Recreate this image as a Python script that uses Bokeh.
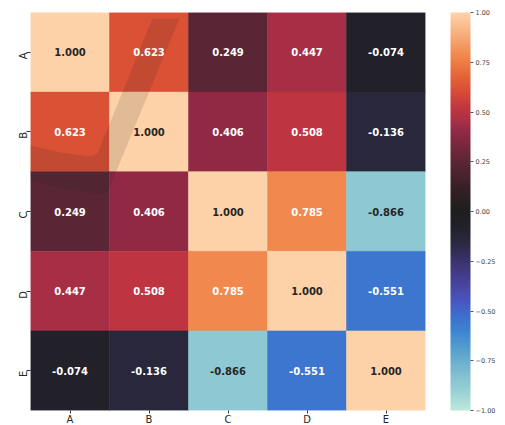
import math
import numpy as np
from bokeh.plotting import figure
from bokeh.models import (ColumnDataSource, LinearColorMapper, ColorBar,
                          FixedTicker, CustomJSTickFormatter)
from bokeh.transform import transform
from bokeh.core.properties import value
from bokeh.embed import file_html
from bokeh.resources import INLINE

# Correlation matrix
variables = ["A", "B", "C", "D", "E"]
row_A = [1.000, 0.623, 0.249, 0.447, -0.074]
row_B = [0.623, 1.000, 0.406, 0.508, -0.136]
row_C = [0.249, 0.406, 1.000, 0.785, -0.866]
row_D = [0.447, 0.508, 0.785, 1.000, -0.551]
row_E = [-0.074, -0.136, -0.866, -0.551, 1.000]
corr_rows = [row_A, row_B, row_C, row_D, row_E]
colorbar_ticks = [-1.0, -0.75, -0.5, -0.25, 0.0, 0.25, 0.5, 0.75, 1.0]

# Diverging "icefire"-like colormap, defined by stops on [-1, 1]
icefire_stops = [
    (-1.00, (189, 231, 219)),
    (-0.90, (152, 207, 212)),
    (-0.80, (122, 186, 207)),
    (-0.70, (88, 160, 206)),
    (-0.60, (60, 132, 209)),
    (-0.52, (62, 108, 204)),
    (-0.45, (72, 86, 190)),
    (-0.36, (72, 66, 155)),
    (-0.26, (60, 52, 112)),
    (-0.16, (43, 41, 66)),
    (-0.07, (33, 32, 40)),
    (0.00, (30, 30, 30)),
    (0.10, (50, 31, 36)),
    (0.25, (91, 38, 53)),
    (0.40, (143, 41, 69)),
    (0.45, (166, 47, 70)),
    (0.52, (192, 53, 64)),
    (0.62, (218, 80, 54)),
    (0.70, (232, 106, 59)),
    (0.78, (240, 134, 75)),
    (0.90, (248, 176, 128)),
    (1.00, (254, 210, 168)),
]

N = 256
pos = np.linspace(-1, 1, N)
sp = [s[0] for s in icefire_stops]
chan = [np.interp(pos, sp, [s[1][k] for s in icefire_stops]) for k in range(3)]
palette = ["#%02x%02x%02x" % (int(round(r)), int(round(g)), int(round(b)))
           for r, g, b in zip(*chan)]

LOW, HIGH = -1.0, 1.0
mapper = LinearColorMapper(palette=palette, low=LOW, high=HIGH)


def cell_rgb(v):
    i = int(math.floor((v - LOW) / (HIGH - LOW) * N))
    i = min(max(i, 0), N - 1)
    h = palette[i]
    return tuple(int(h[j:j + 2], 16) for j in (1, 3, 5))


def luminance(rgb):
    out = []
    for c in rgb:
        c = c / 255.0
        out.append(c / 12.92 if c <= 0.03928 else ((c + 0.055) / 1.055) ** 2.4)
    return 0.2126 * out[0] + 0.7152 * out[1] + 0.0722 * out[2]


xs, ys, vals, labels, tcolors = [], [], [], [], []
for r, row in zip(variables, corr_rows):
    for c, v in zip(variables, row):
        xs.append(c)
        ys.append(r)
        vals.append(v)
        labels.append("%.3f" % v)
        tcolors.append("#262626" if luminance(cell_rgb(v)) > 0.408 else "#ffffff")

src = ColumnDataSource(dict(x=xs, y=ys, v=vals, label=labels, tcolor=tcolors))

p = figure(x_range=variables, y_range=list(reversed(variables)),
           frame_width=395, frame_height=398,
           min_border_left=30, min_border_top=12, min_border_bottom=15,
           min_border_right=80,
           output_backend="svg", toolbar_location=None,
           background_fill_color="white", border_fill_color="white")
p.outline_line_color = None
p.grid.grid_line_color = None

p.rect(x="x", y="y", width=1, height=1, source=src,
       fill_color=transform("v", mapper), line_color=transform("v", mapper),
       line_width=0.5)

# faint watermark check mark across the upper-left cells (cell units)
wm_x = [1.544, 1.886, 0.975, 0.886, 0.380, 0.0, -0.063, -0.063, 0.0, 0.380, 0.759, 0.848]
wm_y = [4.925, 4.925, 2.739, 2.714, 2.789, 2.889, 2.915, 3.354, 3.329, 3.241, 3.191, 3.229]
p.patch(wm_x, wm_y, fill_color="#202020", fill_alpha=0.13, line_color=None)

p.text(x="x", y="y", text="label", source=src, text_color="tcolor",
       text_align="center", text_baseline="middle",
       text_font=value("DejaVu Sans"), text_font_style="bold",
       text_font_size="10px")

for ax in (p.xaxis[0], p.yaxis[0]):
    ax.axis_line_color = None
    ax.major_tick_in = 0
    ax.major_tick_line_color = "#333333"
    ax.minor_tick_line_color = None
    ax.major_label_text_font = "DejaVu Sans"
    ax.major_label_text_font_size = "10px"
    ax.major_label_text_color = "#262626"
p.xaxis[0].major_tick_out = 3
p.xaxis[0].major_label_standoff = 0
p.yaxis[0].major_tick_out = 4
p.yaxis[0].major_label_standoff = 3
p.yaxis[0].major_label_orientation = math.pi / 2

cbar = ColorBar(color_mapper=mapper, width=20, height=398,
                ticker=FixedTicker(ticks=colorbar_ticks),
                formatter=CustomJSTickFormatter(
                    code="return tick.toFixed(2).replace('-', '\u2212');"),
                major_tick_in=0, major_tick_out=3,
                major_tick_line_color="#555555",
                minor_tick_line_color=None,
                bar_line_color=None,
                major_label_text_font="DejaVu Sans",
                major_label_text_font_size="6.5px",
                major_label_text_color="#444444",
                label_standoff=2,
                padding=0, margin=0,
                location=(25, 0),
                background_fill_color=None,
                border_line_color=None)
p.add_layout(cbar, "right")

open("out.html", "w").write(file_html(p, INLINE))
